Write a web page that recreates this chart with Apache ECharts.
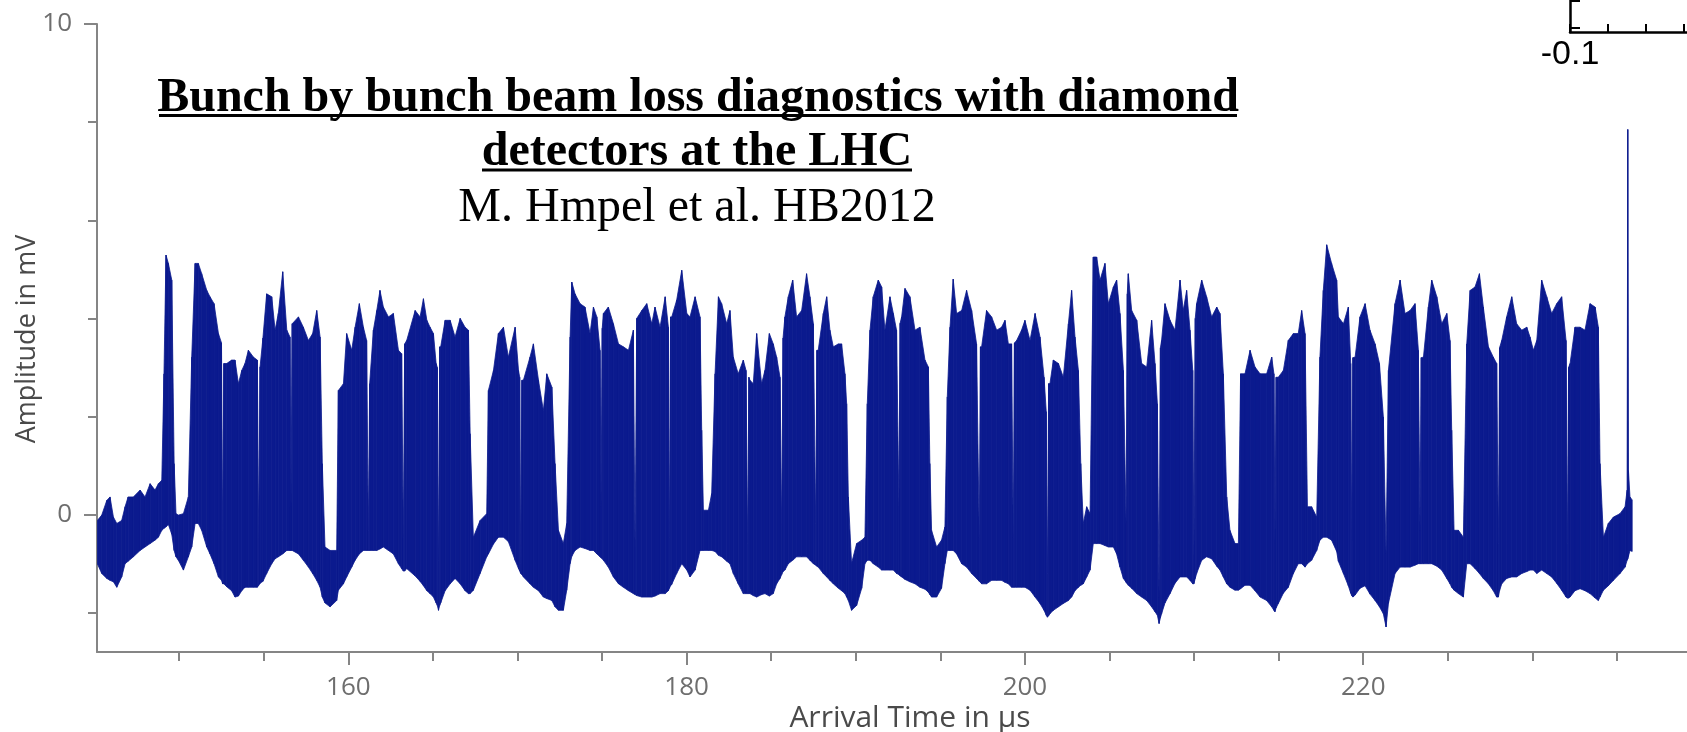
<!DOCTYPE html>
<html>
<head>
<meta charset="utf-8">
<script src="https://cdn.jsdelivr.net/npm/echarts@6/dist/echarts.min.js"></script>
<style>
html,body{margin:0;padding:0;background:#fff;}
#chart{width:1687px;height:732px;}
</style>
</head>
<body>
<div id="chart"></div>
<script>
// ---- signal envelope: time (µs), upper / lower edge (mV) ----
const timeUs = [
145.16,145.42,145.72,145.91,146.11,146.31,146.60,146.80,146.98,147.29,
147.69,147.98,148.28,148.57,148.77,148.97,149.10,149.22,149.36,149.56,
149.70,149.81,149.95,150.25,150.54,150.74,150.94,151.13,151.33,151.63,
151.82,152.06,152.32,152.50,152.57,152.64,152.81,153.10,153.30,153.50,
153.70,153.89,154.09,154.39,154.62,154.70,154.78,154.95,155.17,155.47,
155.67,155.86,156.12,156.36,156.55,156.61,156.68,157.05,157.34,157.64,
157.89,158.13,158.33,158.46,158.62,158.92,159.31,159.41,159.71,159.90,
160.20,160.40,160.65,160.89,161.08,161.18,161.26,161.48,161.68,161.87,
162.07,162.37,162.66,162.96,163.15,163.25,163.33,163.45,
163.95,164.24,164.44,164.64,164.83,165.03,165.19,165.26,165.33,165.40,
165.46,165.72,166.02,166.31,166.61,166.90,167.10,167.20,167.39,167.79,
168.18,168.28,168.58,168.87,169.17,169.46,169.86,170.06,170.13,170.19,
170.26,170.35,170.74,170.94,171.24,171.53,171.73,172.03,172.22,172.42,
172.71,172.91,173.11,173.21,173.40,173.70,173.99,174.29,174.49,174.69,
174.88,174.94,175.01,175.08,175.37,175.67,175.97,176.26,176.56,176.85,
176.95,177.05,177.35,177.64,177.94,178.13,178.43,178.73,178.92,178.98,
179.05,179.12,179.41,179.71,180.01,180.20,180.50,180.79,180.89,180.99,
181.29,181.48,181.68,181.88,
182.07,182.37,182.56,182.76,183.05,183.35,183.51,183.61,183.68,183.74,
183.94,184.14,184.43,184.63,184.89,185.12,185.32,185.52,185.62,185.70,
185.81,186.01,186.27,186.50,186.80,187.09,187.29,187.49,187.63,187.70,
187.78,188.08,188.28,188.47,188.67,188.97,189.16,189.36,189.46,189.56,
189.75,190.05,190.35,190.54,190.68,190.84,191.03,191.33,191.53,191.72,
192.02,192.22,192.41,192.55,192.62,192.71,192.91,193.20,193.50,193.79,
194.09,194.29,194.38,194.48,194.78,195.07,195.27,195.41,195.57,195.76,
195.96,196.26,196.55,196.85,197.14,197.30,197.37,197.44,197.73,198.03,
198.33,198.62,198.82,199.02,199.21,199.31,199.38,199.51,199.80,200.00,
200.30,200.60,200.89,201.13,201.26,201.33,201.40,201.48,201.68,201.98,
202.27,202.57,202.76,202.96,203.16,203.30,203.45,203.65,203.85,204.04,
204.24,204.44,204.73,204.93,205.23,205.42,205.62,205.82,205.98,206.05,
206.11,206.31,206.61,206.90,207.20,207.49,207.69,207.83,207.93,208.01,
208.08,208.28,208.58,208.87,209.17,209.36,209.56,209.76,209.92,209.99,
210.07,210.15,210.45,210.74,211.04,211.34,211.53,211.73,211.93,212.12,
212.42,212.62,212.75,213.01,213.31,213.60,213.90,214.29,214.59,214.72,
214.78,214.85,214.98,215.28,215.57,215.87,216.16,216.36,216.56,216.70,
216.95,217.25,217.44,217.64,217.84,218.13,218.43,
218.53,218.83,219.12,219.26,219.32,219.39,219.52,219.81,220.11,220.40,
220.70,220.96,221.19,221.35,221.49,221.88,222.18,222.47,222.77,223.06,
223.26,223.36,223.43,223.56,223.85,224.05,224.35,224.64,224.94,225.13,
225.23,225.37,225.63,225.92,226.12,226.32,226.61,226.87,227.10,227.40,
227.69,227.89,227.99,228.06,228.19,228.48,228.78,229.07,229.37,229.67,
229.86,230.06,230.26,230.55,230.85,231.14,231.44,231.73,231.99,232.07,
232.14,232.23,232.52,232.82,233.11,233.41,233.71,233.90,234.00,234.20,
234.49,234.79,235.18,235.48,235.60,235.64,235.68,235.77,235.90
];
const upperMv = [
-0.12,-0.01,0.29,0.36,-0.05,-0.18,-0.12,0.16,0.36,0.36,
0.50,0.36,0.63,0.50,0.63,0.70,2.87,5.29,5.12,4.78,
1.04,0.02,-0.01,0.02,0.36,3.21,5.12,5.12,4.91,4.57,
4.44,4.30,3.69,3.50,-0.32,3.08,3.08,3.15,3.15,2.67,
2.94,3.08,3.35,3.21,3.15,-0.46,3.01,3.60,4.50,4.44,
3.76,4.10,4.95,3.76,3.62,0.16,3.89,4.03,3.82,3.55,
3.69,4.16,3.62,1.04,-0.66,-0.73,-0.73,2.53,2.67,3.69,
3.35,3.82,4.30,3.82,3.55,-0.32,2.67,3.76,4.16,4.57,
4.23,4.03,4.10,3.35,3.28,-0.46,3.48,3.55,
4.16,4.03,4.40,3.96,3.82,3.69,3.08,3.00,-0.93,3.42,
3.42,3.96,3.96,3.62,4.00,3.82,3.76,1.65,-0.46,-0.12,
0.02,2.53,2.94,3.69,3.82,3.21,3.82,2.94,2.80,-1.00,
2.74,2.74,3.21,3.48,2.74,2.12,2.87,2.60,1.04,-0.32,
-0.59,-0.18,3.62,4.74,4.50,4.30,4.23,3.69,4.23,4.03,
3.35,0.16,3.80,4.10,4.23,3.89,3.48,3.42,3.35,3.76,
-0.66,4.00,4.16,4.30,3.89,4.23,3.82,4.44,3.82,-0.46,
4.03,4.03,4.37,4.98,4.10,4.03,4.44,4.03,1.72,0.09,
0.09,0.43,2.87,4.44,
4.30,3.89,4.16,3.21,2.87,3.15,2.94,-0.59,2.80,2.74,
2.67,3.69,2.67,2.94,3.69,3.48,3.21,2.80,-0.25,3.60,
4.03,4.44,4.78,4.03,4.16,4.91,4.44,3.89,-0.18,3.35,
3.35,4.10,4.44,3.76,3.42,3.48,3.48,2.87,2.26,0.36,
-0.99,-0.59,-0.52,-0.46,2.26,3.76,4.44,4.78,4.64,3.76,
4.44,4.10,3.76,0.16,3.90,4.03,4.61,4.44,3.76,3.82,
3.15,3.01,1.04,-0.32,-0.66,-0.52,-0.25,2.40,3.82,4.80,
4.10,4.16,4.57,4.16,3.48,-0.46,3.42,3.42,4.16,4.03,
3.76,3.82,3.96,3.48,3.48,-0.46,3.50,3.55,3.76,3.96,
3.55,4.10,3.62,2.80,2.10,-1.20,2.67,2.67,3.15,3.08,
2.80,3.89,4.57,3.62,2.94,1.04,-0.18,0.16,0.02,5.25,
5.25,4.78,5.12,4.30,4.64,4.78,4.10,2.94,-0.18,4.50,
4.91,4.16,3.96,3.08,3.01,3.96,3.08,2.26,-1.68,3.40,
3.55,4.30,3.96,3.76,4.78,4.16,4.57,3.76,2.94,-1.00,
4.00,4.30,4.78,4.44,4.03,4.23,4.10,2.87,0.36,-0.32,
-0.59,-0.59,2.87,2.87,3.35,3.01,2.87,2.87,3.21,2.87,
-0.59,2.80,2.80,2.94,3.55,3.69,3.69,4.16,3.69,0.16,
0.16,-0.05,3.21,4.57,5.50,5.12,4.78,
4.03,3.89,4.23,3.08,-0.52,3.20,3.21,4.03,4.30,3.76,
3.48,3.08,1.99,-0.79,2.94,4.30,4.78,4.10,4.16,4.30,
3.35,-0.32,3.20,3.21,4.23,4.78,4.44,3.89,4.10,3.55,
1.72,-0.32,-0.32,-0.46,3.48,4.57,4.64,4.91,4.23,3.42,
3.21,3.08,-0.59,3.40,3.55,4.03,4.44,3.89,3.76,3.82,
3.62,3.35,3.55,4.78,4.44,4.10,4.30,4.44,3.55,-0.59,
3.00,3.08,3.82,3.82,3.76,4.30,4.23,3.82,1.04,-0.46,
-0.18,-0.05,0.02,0.16,0.50,7.85,0.90,0.36,0.30
];
const lowerMv = [
-1.00,-1.20,-1.30,-1.34,-1.37,-1.48,-1.27,-1.00,-0.95,-0.86,
-0.73,-0.66,-0.59,-0.52,-0.46,-0.32,-0.28,-0.25,-0.20,-0.40,
-0.73,-0.86,-0.93,-1.13,-0.86,-0.66,-0.18,-0.18,-0.32,-0.66,
-0.80,-1.00,-1.27,-1.34,-1.41,-1.41,-1.47,-1.55,-1.68,-1.66,
-1.55,-1.48,-1.48,-1.48,-1.48,-1.44,-1.40,-1.36,-1.20,-1.00,
-0.90,-0.86,-0.80,-0.73,-0.73,-0.73,-0.73,-0.80,-0.93,-1.07,
-1.20,-1.34,-1.48,-1.68,-1.80,-1.88,-1.75,-1.54,-1.41,-1.27,
-1.07,-0.93,-0.80,-0.73,-0.73,-0.73,-0.73,-0.73,-0.73,-0.70,
-0.66,-0.73,-0.80,-1.00,-1.10,-1.15,-1.15,-1.10,
-1.25,-1.36,-1.45,-1.55,-1.61,-1.68,-1.80,-1.85,-1.95,-1.85,
-1.80,-1.55,-1.41,-1.30,-1.41,-1.55,-1.61,-1.61,-1.54,-1.20,
-0.86,-0.80,-0.60,-0.46,-0.46,-0.55,-0.93,-1.10,-1.15,-1.20,
-1.22,-1.27,-1.41,-1.48,-1.55,-1.68,-1.71,-1.75,-1.88,-1.95,
-1.95,-1.54,-1.00,-0.85,-0.73,-0.66,-0.69,-0.73,-0.73,-0.80,
-0.86,-0.88,-0.90,-0.93,-1.07,-1.27,-1.41,-1.48,-1.55,-1.61,
-1.63,-1.65,-1.68,-1.68,-1.68,-1.66,-1.61,-1.61,-1.55,-1.50,
-1.45,-1.42,-1.20,-1.00,-1.13,-1.27,-1.13,-0.73,-0.73,-0.73,
-0.73,-0.73,-0.75,-0.83,
-0.86,-0.95,-1.00,-1.20,-1.41,-1.61,-1.61,-1.61,-1.61,-1.61,
-1.65,-1.68,-1.63,-1.61,-1.66,-1.61,-1.41,-1.30,-1.22,-1.16,
-1.13,-1.00,-0.93,-0.86,-0.86,-0.86,-0.93,-1.00,-1.03,-1.05,
-1.07,-1.20,-1.27,-1.34,-1.41,-1.50,-1.55,-1.61,-1.68,-1.75,
-1.95,-1.85,-1.50,-1.00,-0.93,-0.93,-1.00,-1.07,-1.13,-1.13,
-1.13,-1.13,-1.20,-1.22,-1.25,-1.27,-1.32,-1.37,-1.41,-1.48,
-1.52,-1.58,-1.63,-1.68,-1.68,-1.50,-1.00,-0.73,-0.73,-0.73,
-0.80,-1.00,-1.07,-1.20,-1.30,-1.36,-1.38,-1.41,-1.41,-1.34,
-1.34,-1.34,-1.38,-1.41,-1.48,-1.48,-1.48,-1.48,-1.48,-1.48,
-1.54,-1.68,-1.81,-1.95,-2.05,-2.09,-2.06,-2.02,-1.95,-1.88,
-1.81,-1.75,-1.68,-1.55,-1.48,-1.44,-1.41,-1.27,-1.13,-0.59,
-0.59,-0.59,-0.63,-0.66,-0.66,-0.80,-1.07,-1.30,-1.38,-1.41,
-1.44,-1.50,-1.61,-1.68,-1.75,-1.88,-1.98,-2.05,-2.22,-2.10,
-2.02,-1.80,-1.61,-1.40,-1.27,-1.27,-1.27,-1.34,-1.41,-1.41,
-1.30,-1.20,-0.93,-0.86,-0.90,-1.05,-1.13,-1.27,-1.41,-1.48,
-1.54,-1.54,-1.51,-1.44,-1.44,-1.55,-1.68,-1.75,-1.88,-1.95,
-1.98,-1.90,-1.81,-1.60,-1.48,-1.20,-1.00,-1.00,-1.07,-1.00,
-0.93,-0.73,-0.52,-0.46,-0.46,-0.52,-0.75,
-0.95,-1.20,-1.45,-1.60,-1.65,-1.68,-1.64,-1.50,-1.45,-1.62,
-1.75,-1.88,-2.02,-2.29,-1.81,-1.20,-1.07,-1.07,-1.07,-1.03,
-1.00,-1.00,-1.00,-1.00,-1.00,-1.00,-1.05,-1.13,-1.30,-1.41,
-1.48,-1.54,-1.61,-1.68,-1.00,-1.00,-1.10,-1.20,-1.30,-1.41,
-1.55,-1.68,-1.68,-1.55,-1.41,-1.30,-1.27,-1.27,-1.20,-1.16,
-1.13,-1.13,-1.20,-1.13,-1.20,-1.27,-1.40,-1.54,-1.68,-1.70,
-1.70,-1.68,-1.55,-1.51,-1.55,-1.61,-1.70,-1.75,-1.68,-1.54,
-1.45,-1.34,-1.20,-1.07,-0.93,-0.90,-0.85,-0.73,-0.75
];
const xTickValues = [150,155,160,165,170,175,180,185,190,195,200,205,210,215,220,225,230,235];
const xLabelValues = [160,180,200,220];
const yTickValues = [-2,0,2,4,6,8,10];
const yLabelValues = [0,10];
const insetXLabelValues = [-0.1];
const insetXTickValues = [-0.1,-0.05,0,0.05];
const insetYTickValues = [0.12,0.97];

const titleLines = ['Bunch by bunch beam loss diagnostics with diamond','detectors at the LHC','M. Hmpel et al. HB2012'];
const xName = 'Arrival Time in \u00b5s';
const yName = 'Amplitude in mV';

// ---- build ----
const n = Math.min(timeUs.length, upperMv.length, lowerMv.length);
if (timeUs.length !== upperMv.length || timeUs.length !== lowerMv.length) {
  console.error('length mismatch', timeUs.length, upperMv.length, lowerMv.length);
}
const envData = [];
for (let i = 0; i < n; i++) envData.push([timeUs[i], lowerMv[i], upperMv[i]]);

const SIG = '#0b1a8e';
const AX = '#858585';
const FONT = '"Open Sans", "DejaVu Sans", sans-serif';
const XMIN = 145.14, XMAX = 241.27;

const chart = echarts.init(document.getElementById('chart'), null, {renderer:'canvas'});
chart.setOption({
  animation:false,
  backgroundColor:'#fff',
  grid:[
    {left:97, right:-36, top:24, bottom:80, outerBoundsMode:'none', containLabel:false},
    {left:1570, right:-34, top:0, bottom:700, outerBoundsMode:'none', containLabel:false}
  ],
  xAxis:[
    {gridIndex:0, type:'value', min:XMIN, max:XMAX, position:'bottom',
     axisLine:{onZero:false, lineStyle:{color:AX, width:2}},
     axisTick:{show:true, customValues:xLabelValues, length:13, lineStyle:{color:AX, width:2}},
     axisLabel:{customValues:xLabelValues, color:'#6e6e6e', fontSize:26, fontFamily:FONT, margin:23},
     splitLine:{show:false}
    },
    {gridIndex:0, type:'value', min:XMIN, max:XMAX, position:'bottom',
     axisLine:{show:false, onZero:false},
     axisTick:{show:true, customValues:xTickValues, length:9, lineStyle:{color:AX, width:2}},
     axisLabel:{show:false}, splitLine:{show:false}
    },
    {gridIndex:1, type:'value', min:-0.1, max:0.1, position:'bottom',
     axisLine:{onZero:false, lineStyle:{color:'#000', width:2.5}},
     axisTick:{show:true, inside:true, customValues:insetXTickValues, length:8, lineStyle:{color:'#000', width:2}},
     axisLabel:{customValues:insetXLabelValues, color:'#000', fontSize:34, fontFamily:'"Liberation Sans", Arial, sans-serif', margin:6,
       formatter:(v)=>String(v)},
     splitLine:{show:false}
    }
  ],
  yAxis:[
    {gridIndex:0, type:'value', min:-2.8, max:10, position:'left',
     axisLine:{show:true, onZero:false, lineStyle:{color:AX, width:2}},
     axisTick:{show:true, customValues:yLabelValues, length:13, lineStyle:{color:AX, width:2}},
     axisLabel:{customValues:yLabelValues, color:'#6e6e6e', fontSize:26, fontFamily:FONT, margin:25},
     splitLine:{show:false}
    },
    {gridIndex:0, type:'value', min:-2.8, max:10, position:'left',
     axisLine:{show:false, onZero:false},
     axisTick:{show:true, customValues:yTickValues, length:9, lineStyle:{color:AX, width:2}},
     axisLabel:{show:false}, splitLine:{show:false}
    },
    {gridIndex:1, type:'value', min:0, max:1, position:'left',
     axisLine:{onZero:false, lineStyle:{color:'#000', width:2.5}},
     axisTick:{show:true, inside:true, customValues:insetYTickValues, length:10, lineStyle:{color:'#000', width:2}},
     axisLabel:{show:false}, splitLine:{show:false}
    }
  ],
  graphic:[
    {type:'text', x:698, y:99, style:{text:titleLines[0], font:'bold 48px "Liberation Serif", "Times New Roman", serif', fill:'#000', align:'center', verticalAlign:'middle'}},
    {type:'line', shape:{x1:159, y1:115.5, x2:1237, y2:115.5}, style:{stroke:'#000', lineWidth:3}},
    {type:'text', x:697, y:153, style:{text:titleLines[1], font:'bold 48px "Liberation Serif", "Times New Roman", serif', fill:'#000', align:'center', verticalAlign:'middle'}},
    {type:'line', shape:{x1:482, y1:170, x2:912, y2:170}, style:{stroke:'#000', lineWidth:3}},
    {type:'text', x:697, y:208, style:{text:titleLines[2], font:'48px "Liberation Serif", "Times New Roman", serif', fill:'#000', align:'center', verticalAlign:'middle'}},
    {type:'text', x:910, y:718, style:{text:xName, font:'30px "Open Sans", "DejaVu Sans", sans-serif', fill:'#4a4a4a', align:'center', verticalAlign:'middle'}},
    {type:'text', x:27, y:339, rotation:Math.PI/2, style:{text:yName, font:'27px "Open Sans", "DejaVu Sans", sans-serif', fill:'#4a4a4a', align:'center', verticalAlign:'middle'}}
  ],
  series:[
    {type:'custom', xAxisIndex:0, yAxisIndex:0, data:envData, encode:{x:0, y:[1,2]}, clip:true, silent:true, z:3,
     renderItem:function(params, api){
       const i = params.dataIndexInside;
       if (i >= params.dataInsideLength - 1) return null;
       const a0 = api.coord([api.value(0,i), api.value(1,i)]);
       const b0 = api.coord([api.value(0,i), api.value(2,i)]);
       const b1 = api.coord([api.value(0,i+1), api.value(2,i+1)]);
       const a1 = api.coord([api.value(0,i+1), api.value(1,i+1)]);
       return {type:'polygon', shape:{points:[a0,b0,b1,a1]}, style:{fill:SIG, stroke:SIG, lineWidth:0.8}};
     }
    }
  ]
});
</script>
</body>
</html>
